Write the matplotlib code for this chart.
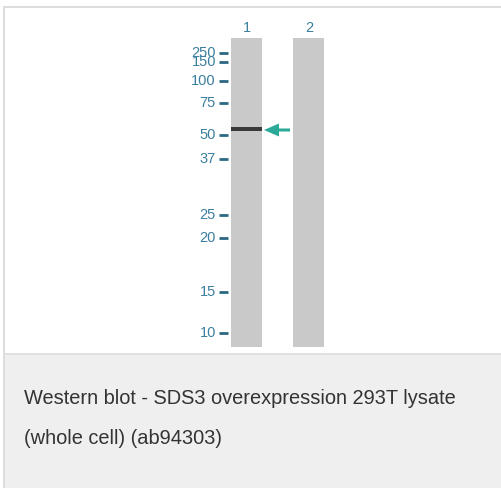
import matplotlib.pyplot as plt
from matplotlib.patches import Rectangle, FancyArrow

# marker ladder (kDa) and where each one ran on the blot (pixels from top)
marker_labels = ["250", "150", "100", "75", "50", "37", "25", "20", "15", "10"]
marker_rows = [53, 62, 81, 103, 135, 159, 215, 238, 292, 333]

lane_names = ["1", "2"]
lane_centers = [247, 309]
# band found in each lane: (lane index, row)
band_lane = [0]
band_row = [129]

caption_lines = ["Western blot - SDS3 overexpression 293T lysate",
                 "(whole cell) (ab94303)"]

W, H = 502, 488
fig = plt.figure(figsize=(W / 100, H / 100), dpi=100)
ax = fig.add_axes([0, 0, 1, 1])
ax.set_xlim(0, W)
ax.set_ylim(H, 0)
ax.axis("off")

text_blue = "#3a7f9f"
tick_blue = "#2a6883"
lane_grey = "#c9c9c9"
fam = ["Liberation Sans", "DejaVu Sans"]

# frame (top and left edges only)
ax.add_patch(Rectangle((3, 6), W, 2, color="#dddddd", lw=0))
ax.add_patch(Rectangle((3, 6), 2, H, color="#dddddd", lw=0))

# lanes
lane_w = 31
lane_top, lane_bot = 38, 347
for name, cx in zip(lane_names, lane_centers):
    ax.add_patch(Rectangle((cx - lane_w / 2, lane_top), lane_w, lane_bot - lane_top,
                           color=lane_grey, lw=0))
    ax.text(cx, 28, name, ha="center", va="center", color=text_blue,
            fontsize=10.5, family=fam)

# marker ticks and labels
for lab, y in zip(marker_labels, marker_rows):
    ax.plot([219, 228], [y, y], color=tick_blue, lw=2, solid_capstyle="butt")
    ax.text(216, y, lab, ha="right", va="center", color=text_blue,
            fontsize=10.5, family=fam)

# bands
for li, y in zip(band_lane, band_row):
    cx = lane_centers[li]
    ax.add_patch(Rectangle((cx - lane_w / 2, y - 2), lane_w, 4, color="#3b3838", lw=0))
    # arrow pointing at the band
    ax.add_patch(FancyArrow(290, y + 1, -26, 0, width=3, head_width=13,
                            head_length=15, length_includes_head=True,
                            color="#2aa898", lw=0))

# caption box
ax.add_patch(Rectangle((5, 354), W, H - 354, color="#eeefee", lw=0))
ax.plot([5, W], [354, 354], color="#dcdcdc", lw=1.2)
for i, line in enumerate(caption_lines):
    ax.text(24, 398 + 41 * i, line, ha="left", va="center", color="#333333",
            fontsize=14.4, family=fam)

fig.savefig("out.png", dpi=100)
